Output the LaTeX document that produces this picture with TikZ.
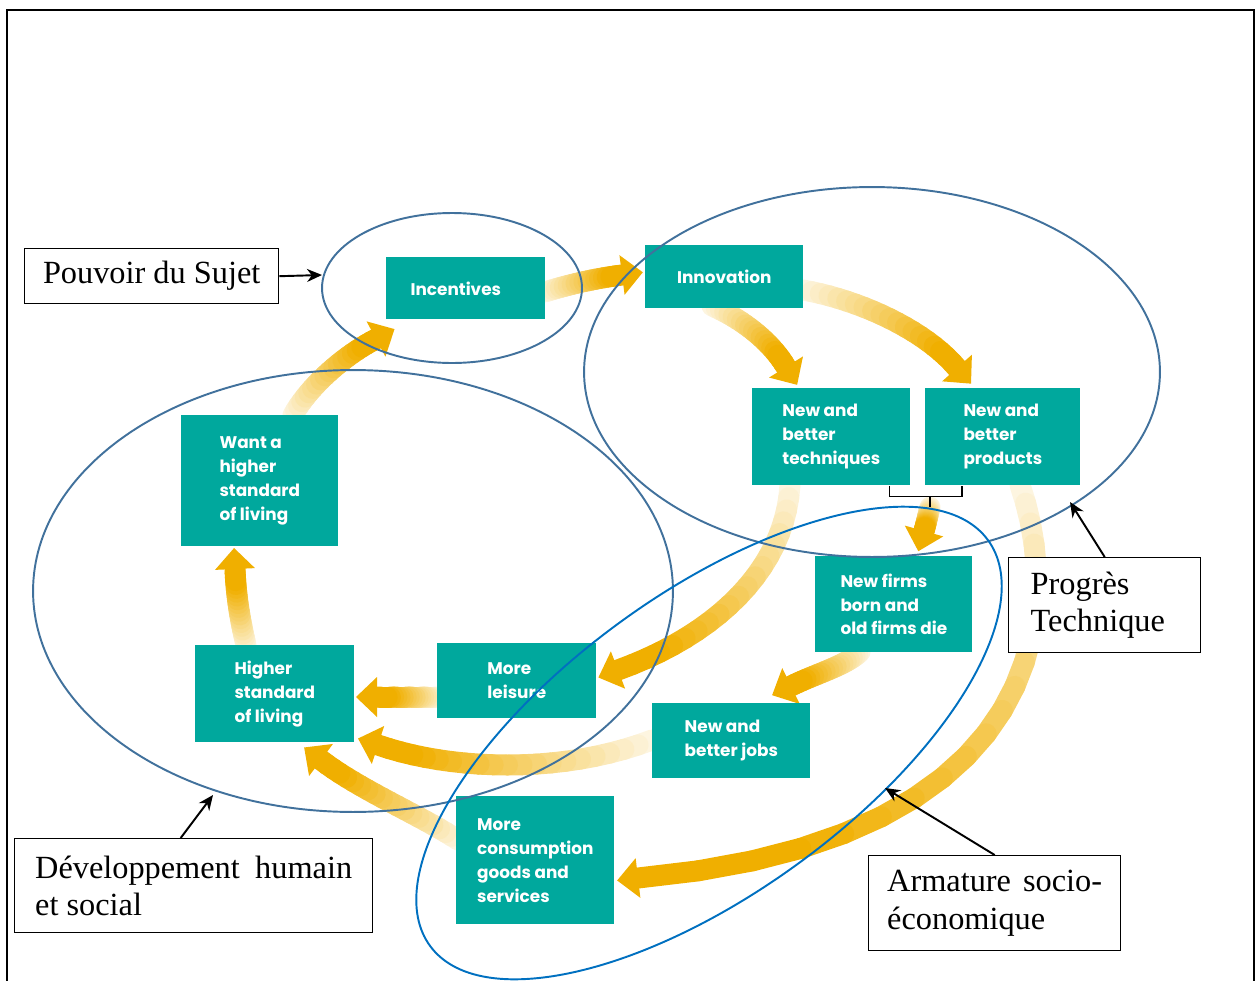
\documentclass[tikz,border=0pt]{standalone}
\usepackage{fontspec}
\setmainfont{Liberation Serif}
\newfontfamily\boxfont{Poppins}
\usetikzlibrary{calc,shapes.geometric,arrows.meta}
\definecolor{gold}{RGB}{240,175,0}
\definecolor{tealbox}{RGB}{0,168,157}
\definecolor{ringblue}{RGB}{65,113,156}
\definecolor{armblue}{RGB}{0,112,192}
\tikzset{
  goldbody/.style={line width=0.42cm, line cap=round},
  tbox/.style={fill=tealbox, text=white, anchor=north west, inner sep=0pt, align=left,
    font=\boxfont\bfseries\fontsize{9.6}{13.6}\selectfont},
  lbl/.style={draw=black, fill=white, line width=0.8pt, anchor=north west, inner ysep=0pt,
    font=\fontsize{18.4}{21.2}\selectfont},
  ring/.style={draw=ringblue, line width=1.1pt, ellipse, inner sep=0pt},
  pointer/.style={draw=black, line width=1.1pt, -{Stealth[length=0.3cm,width=0.26cm]}},
  bracket/.style={draw=black, line width=0.9pt}
}
\newcommand\goldarrow[5]{%
  \path (#2) .. controls (#3) and (#4) .. (#5)
    coordinate[pos=0] (#1-0) coordinate[pos=0.05] (#1-1) coordinate[pos=0.1] (#1-2)
    coordinate[pos=0.15] (#1-3) coordinate[pos=0.2] (#1-4) coordinate[pos=0.25] (#1-5)
    coordinate[pos=0.3] (#1-6) coordinate[pos=0.35] (#1-7) coordinate[pos=0.4] (#1-8)
    coordinate[pos=0.45] (#1-9) coordinate[pos=0.5] (#1-10) coordinate[pos=0.55] (#1-11)
    coordinate[pos=0.6] (#1-12) coordinate[pos=0.65] (#1-13) coordinate[pos=0.7] (#1-14)
    coordinate[pos=0.75] (#1-15) coordinate[pos=0.8] (#1-16) coordinate[pos=0.85] (#1-17)
    coordinate[pos=0.9] (#1-18) coordinate[pos=0.95] (#1-19) coordinate[pos=1] (#1-20);
  \foreach \i in {0,...,19}{%
    \pgfmathtruncatemacro{\j}{\i+1}%
    \pgfmathtruncatemacro{\p}{min(100,12+100*\i/19)}%
    \draw[goldbody, draw=gold!\p!white] (#1-\i) -- (#1-\j);
  }%
  \fill[gold] ($(#1-20)!-0.42cm!(#1-19)$) -- ($(#1-20)!0.4cm!90:(#1-19)$)
     -- ($(#1-20)!0.4cm!-90:(#1-19)$) -- cycle;
}
\begin{document}
\begin{tikzpicture}[x=0.02cm,y=-0.02cm]
\useasboundingbox (0,0) rectangle (1256,980);

% gold arrows
\goldarrow{aA}{545,292}{570,284}{598,278}{622,275}
\goldarrow{aB}{712,306}{740,318}{770,340}{786,367}
\goldarrow{aC}{803,290}{860,300}{925,330}{957,368}
\goldarrow{aD}{930,507}{928,515}{926,524}{924,531}
\goldarrow{aE}{790,485}{785,570}{715,635}{618,670}
\goldarrow{aF}{1020,485}{1060,600}{1060,840}{638,878}
\goldarrow{aG}{860,652}{845,666}{815,674}{791,686}
\goldarrow{aH}{437,697}{420,697}{400,697}{377,697}
\goldarrow{aI}{652,740}{560,775}{450,770}{378,745}
\goldarrow{aJ}{458,840}{420,815}{360,790}{321,760}
\goldarrow{aK}{246,645}{240,620}{236,595}{235,569}
\goldarrow{aL}{293,415}{310,385}{345,355}{376,339}

% teal boxes
\node[tbox, minimum width=3.18cm, minimum height=1.24cm] (inc) at (386,257) {Incentives\hspace*{0.4cm}};
\node[tbox, minimum width=3.16cm, minimum height=1.26cm] (inn) at (645,245) {Innovation};
\node[tbox, minimum width=3.16cm, minimum height=1.94cm] (tech) at (752,388) {New and\\better\\techniques};
\node[tbox, minimum width=3.10cm, minimum height=1.94cm] (prod) at (925,388) {New and\\better\\products};
\node[tbox, minimum width=3.14cm, minimum height=1.92cm] (firms) at (815,556) {New firms\\born and\\old firms die};
\node[tbox, minimum width=3.18cm, minimum height=1.50cm] (leis) at (437,643) {More\\leisure};
\node[tbox, minimum width=3.16cm, minimum height=1.50cm] (jobs) at (652,703) {New and\\better jobs};
\node[tbox, minimum width=3.16cm, minimum height=2.56cm] (cons) at (456,796) {More\\consumption\\goods and\\services};
\node[tbox, minimum width=3.18cm, minimum height=1.94cm] (higher) at (195,645) {Higher\\standard\\of living};
\node[tbox, minimum width=3.14cm, minimum height=2.62cm] (want) at (181,415) {Want a\\higher\\standard\\of living};

% bracket
\coordinate (brL) at ([xshift=-0.42cm]tech.south east);
\coordinate (brR) at ([xshift=0.74cm]prod.south west);
\draw[bracket] (brL) -- ++(0,11) coordinate (brLL) -- (brLL -| brR) -- (brR);
\coordinate (brM) at (930,496);
\draw[bracket] (brM) -- (aD-0);

% ellipses
\node[ring, minimum width=5.2cm, minimum height=3.0cm] (pouvE) at (452,288) {};
\node[ring, minimum width=11.52cm, minimum height=7.4cm] (progE) at (872,372) {};
\node[ring, minimum width=12.8cm, minimum height=8.84cm] (devE) at (353,591) {};
\node[ring, draw=armblue, minimum width=13.8cm, minimum height=6.0cm, rotate=36] (armE) at (709,743) {};

% labels
\node[lbl, minimum width=5.08cm, minimum height=1.1cm, align=center] (pouv) at (24,248) {Pouvoir du Sujet};
\node[lbl, minimum width=3.84cm, minimum height=1.9cm, text width=2.96cm, align=left] (prog) at (1008,557) {Progrès\\Technique};
\node[lbl, minimum width=7.16cm, minimum height=1.88cm, text width=6.34cm, align=left] (dev) at (14,838) {\spaceskip=0pt\relax\makebox[6.34cm][s]{Développement humain}\\et social};
\node[lbl, minimum width=5.04cm, minimum height=1.9cm, text width=4.3cm, align=left] (arm) at (868,855) {\spaceskip=0pt\relax\makebox[4.3cm][s]{Armature socio-}\\économique};

% pointers
\coordinate (pouvT) at (322,275);
\coordinate (progT) at (1070,502);
\coordinate (devT) at (213,795);
\coordinate (armT) at (885,788);
\draw[pointer] (pouv.east) -- (pouvT);
\draw[pointer] (prog.north) -- (progT);
\draw[pointer] ([xshift=-0.26cm]dev.north) -- (devT);
\draw[pointer] (arm.north) -- (armT);

% frame
\draw[line width=1.2pt] (7,990) -- (7,10) -- (1254,10) -- (1254,990);
\end{tikzpicture}
\end{document}
